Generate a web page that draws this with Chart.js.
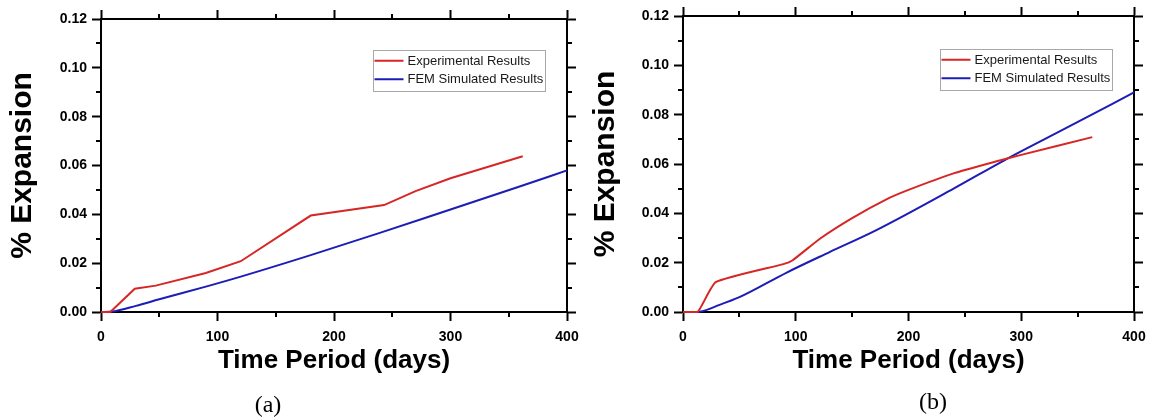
<!DOCTYPE html>
<html><head><meta charset="utf-8">
<script src="https://cdn.jsdelivr.net/npm/chart.js@4.4.1/dist/chart.umd.min.js"></script>
<style>
html,body{margin:0;padding:0;background:#fff;width:1152px;height:420px;overflow:hidden;}
.panel{position:absolute;top:0;height:420px;}
.cap{position:absolute;font-family:'Liberation Serif','Times New Roman',serif;font-size:24px;color:#000;transform:translate(-50%,-50%);white-space:nowrap;}
</style></head><body>
<div class="panel" style="left:0;width:580px"><canvas id="ca" width="580" height="420"></canvas></div>
<div class="panel" style="left:580px;width:572px"><canvas id="cb" width="572" height="420"></canvas></div>
<div class="cap" style="left:268px;top:404px">(a)</div>
<div class="cap" style="left:933px;top:401px">(b)</div>
<script>
// ---- data ----
const seriesNames = ['Experimental Results', 'FEM Simulated Results'];
const xTitle = 'Time Period (days)';
const yTitle = '% Expansion';

// Panel (a)
const expDaysA = [0, 8, 29, 47, 90, 120, 180, 243, 270, 300, 362];
const expValsA = [0, 0, 0.0095, 0.0108, 0.0160, 0.0208, 0.0395, 0.0438, 0.0495, 0.0548, 0.0638];
const femDaysA = [0, 10, 30, 50, 90, 120, 180, 240, 300, 360, 400];
const femValsA = [0, 0.0002, 0.0025, 0.0052, 0.0104, 0.0145, 0.0233, 0.0325, 0.0420, 0.0515, 0.0580];

// Panel (b)
const expDaysB = [0, 13, 29, 89, 97, 122, 150, 180, 200, 240, 280, 300, 363];
const expValsB = [0, 0, 0.0121, 0.0194, 0.0209, 0.0299, 0.0381, 0.0456, 0.0495, 0.0562, 0.0613, 0.0637, 0.0709];
const femDaysB = [0, 12, 33, 50, 92, 130, 172, 240, 285, 340, 400];
const femValsB = [0, 0, 0.0030, 0.0060, 0.0160, 0.0243, 0.0333, 0.0500, 0.0615, 0.0746, 0.0890];

const xMin = 0, xMax = 400, xStep = 50, xMajor = 100;
const yMin = 0, yMax = 0.12, yStep = 0.01;

// ---- style ----
const RED = 'rgb(214,38,38)';
const BLUE = 'rgb(28,28,182)';
const SANS = "'Liberation Sans', Arial, sans-serif";
Chart.defaults.font.family = SANS;
Chart.defaults.color = '#000';

const isMajor = (axis, v) => axis === 'x' ? Math.round(v) % xMajor === 0 : Math.round(v * 100) % 2 === 0;

const minorTicks = {
  id: 'minorTicks',
  afterDraw(chart, args, o) {
    const ctx = chart.ctx, a = chart.chartArea;
    ctx.save();
    ctx.strokeStyle = '#000'; ctx.lineWidth = o.width; ctx.lineCap = 'butt';
    for (const s of Object.values(chart.scales)) {
      s.ticks.forEach(t => {
        if (isMajor(s.axis, t.value)) return;
        const p = Math.round(s.getPixelForValue(t.value));
        ctx.beginPath();
        if (s.position === 'bottom') { ctx.moveTo(p, a.bottom); ctx.lineTo(p, a.bottom + o.length); }
        else if (s.position === 'top') { ctx.moveTo(p, a.top); ctx.lineTo(p, a.top - o.length); }
        else if (s.position === 'left') { ctx.moveTo(a.left, p); ctx.lineTo(a.left - o.length, p); }
        else { ctx.moveTo(a.right, p); ctx.lineTo(a.right + o.length, p); }
        ctx.stroke();
      });
    }
    ctx.restore();
  }
};

const boxLegend = {
  id: 'boxLegend',
  afterDraw(chart, args, o) {
    const ctx = chart.ctx, a = chart.chartArea;
    ctx.save();
    ctx.font = o.fontSize + 'px ' + SANS;
    const items = chart.data.datasets;
    const tw = Math.max(...items.map(d => ctx.measureText(d.label).width));
    const w = Math.round(o.padL + o.lineLen + o.gap + tw + o.padR);
    const h = Math.round(o.rowH * items.length + o.padT + o.padB);
    const x = Math.round(a.right - o.right - w), y = Math.round(a.top + o.top);
    ctx.fillStyle = '#fff'; ctx.fillRect(x, y, w, h);
    ctx.strokeStyle = o.border; ctx.lineWidth = 1; ctx.strokeRect(x + 0.5, y + 0.5, w, h);
    items.forEach((d, i) => {
      const cy = y + o.padT + o.rowH * i + o.rowH / 2;
      ctx.strokeStyle = d.borderColor; ctx.lineWidth = 2;
      ctx.beginPath(); ctx.moveTo(x + o.padL, cy); ctx.lineTo(x + o.padL + o.lineLen, cy); ctx.stroke();
      ctx.fillStyle = o.color; ctx.textBaseline = 'middle'; ctx.textAlign = 'left';
      ctx.fillText(d.label, x + o.padL + o.lineLen + o.gap, cy + 0.5);
    });
    ctx.restore();
  }
};

function pairs(xs, ys) { return xs.map((x, i) => ({ x: x, y: ys[i] })); }

function makeChart(id, expD, expV, femD, femV, g) {
  const tickColor = axis => c => (c.tick && isMajor(axis, c.tick.value)) ? '#000' : 'rgba(0,0,0,0)';
  const grid = axis => ({ drawOnChartArea: false, drawTicks: true, tickLength: 9, tickWidth: 2, tickColor: tickColor(axis) });
  const border = { display: true, color: '#000', width: 2 };
  const noPadX = s => { s.paddingLeft = 0; s.paddingRight = 0; };
  const noPadY = s => { s.paddingTop = 0; s.paddingBottom = 0; };
  return new Chart(document.getElementById(id), {
    type: 'line',
    data: {
      datasets: [
        { label: seriesNames[0], data: pairs(expD, expV), borderColor: RED, borderWidth: 2, pointRadius: 0, fill: false, clip: 4, tension: g.expTension, xAxisID: 'x', yAxisID: 'y' },
        { label: seriesNames[1], data: pairs(femD, femV), borderColor: BLUE, borderWidth: 2, pointRadius: 0, fill: false, clip: 4, cubicInterpolationMode: 'monotone', xAxisID: 'x', yAxisID: 'y' }
      ]
    },
    options: {
      responsive: false, animation: false, maintainAspectRatio: false,
      layout: { padding: { left: 0, right: 0, top: 0, bottom: g.padBottom } },
      plugins: {
        legend: { display: false }, tooltip: { enabled: false },
        minorTicks: { length: 5, width: 2 },
        boxLegend: { right: 22, top: g.legTop, fontSize: 13, padL: 1.5, lineLen: 29, gap: 4, padR: 2, rowH: 18.5, padT: 1.5, padB: 2, border: '#a8a8a8', color: '#1a1a1a' }
      },
      scales: {
        x: {
          type: 'linear', position: 'bottom', min: xMin, max: xMax,
          ticks: { stepSize: xStep, autoSkip: false, maxRotation: 0, padding: 8, color: '#000', font: { size: 14, weight: 'bold' },
                   callback: v => isMajor('x', v) ? String(v) : '' },
          grid: grid('x'), border: border,
          title: { display: true, text: xTitle, color: '#000', font: { size: 26, weight: 'bold' }, padding: { top: 0, bottom: 3 } },
          afterFit: s => { s.height = g.bottomH; noPadX(s); }
        },
        x2: {
          type: 'linear', position: 'top', min: xMin, max: xMax,
          ticks: { display: false, stepSize: xStep, autoSkip: false },
          grid: grid('x'), border: border,
          afterFit: s => { s.height = g.top; noPadX(s); }
        },
        y: {
          type: 'linear', position: 'left', min: yMin, max: yMax,
          ticks: { stepSize: yStep, autoSkip: false, padding: 5, color: '#000', font: { size: 14, weight: 'bold' },
                   callback: v => isMajor('y', v) ? v.toFixed(2) : '' },
          grid: grid('y'), border: border,
          title: { display: true, text: yTitle, color: '#000', font: { size: 30, weight: 'bold' }, padding: { top: g.yTitlePad, bottom: 0 } },
          afterFit: s => { s.width = g.left; noPadY(s); }
        },
        y2: {
          type: 'linear', position: 'right', min: yMin, max: yMax,
          ticks: { display: false, stepSize: yStep, autoSkip: false },
          grid: grid('y'), border: border,
          afterFit: s => { s.width = g.right; noPadY(s); }
        }
      }
    },
    plugins: [minorTicks, boxLegend]
  });
}

makeChart('ca', expDaysA, expValsA, femDaysA, femValsA,
  { left: 101, right: 13, top: 19, bottomH: 67, padBottom: 41, yTitlePad: 5, legTop: 31, expTension: 0 });
makeChart('cb', expDaysB, expValsB, femDaysB, femValsB,
  { left: 103, right: 18, top: 16, bottomH: 67, padBottom: 41, yTitlePad: 8, legTop: 33, expTension: 0.15 });
</script>
</body></html>
